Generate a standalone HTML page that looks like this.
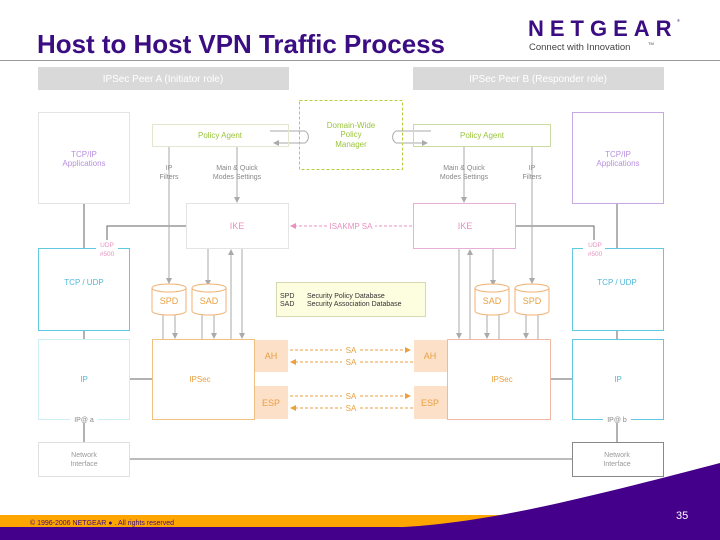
<!DOCTYPE html>
<html><head><meta charset="utf-8"><style>
html,body{margin:0;padding:0;background:#fff;}
svg{display:block;font-family:"Liberation Sans","DejaVu Sans",sans-serif;}
</style></head><body>
<svg width="720" height="540" viewBox="0 0 720 540" xmlns="http://www.w3.org/2000/svg">
<defs>
<marker id="ag" markerWidth="6" markerHeight="6" refX="5" refY="3" orient="auto" markerUnits="userSpaceOnUse"><path d="M0,0 L6,3 L0,6 z" fill="#aaa"/></marker>
<marker id="ap" markerWidth="6" markerHeight="6" refX="5" refY="3" orient="auto" markerUnits="userSpaceOnUse"><path d="M0,0 L6,3 L0,6 z" fill="#e890c0"/></marker>
<marker id="ao" markerWidth="6" markerHeight="6" refX="5" refY="3" orient="auto" markerUnits="userSpaceOnUse"><path d="M0,0 L6,3 L0,6 z" fill="#e8a040"/></marker>
</defs>

<!-- header -->
<text x="37" y="53" font-size="26" font-weight="bold" fill="#3b0d82" textLength="408" lengthAdjust="spacingAndGlyphs">Host to Host VPN Traffic Process</text>
<text x="528" y="36" font-size="22" font-weight="bold" fill="#3b0d82" letter-spacing="6">NETGEAR</text>
<text x="677" y="22" font-size="4" fill="#3b0d82">®</text>
<text x="529" y="50" font-size="9.5" fill="#444">Connect with Innovation</text>
<text x="648" y="45" font-size="4" fill="#444">TM</text>
<line x1="0" y1="60.5" x2="720" y2="60.5" stroke="#999" stroke-width="1"/>

<rect x="38" y="67" width="251" height="23" fill="#d9d9d9"/>
<text x="163" y="82" font-size="10" fill="#fff" text-anchor="middle">IPSec Peer A (Initiator role)</text>
<rect x="413" y="67" width="251" height="23" fill="#d9d9d9"/>
<text x="538" y="82" font-size="10" fill="#fff" text-anchor="middle">IPSec Peer B (Responder role)</text>

<g fill="none" stroke-width="1">
<path d="M84,203 V248 M84,330 V339 M84,419 V442 M617,203 V248 M617,330 V339 M617,419 V442" stroke="#666"/>
<path d="M186,226 H107 V248 M515,226 H594 V248" stroke="#666"/>
<path d="M129,379 H152 M550,379 H572" stroke="#666"/>
<path d="M129,459 H572" stroke="#777"/>
<path d="M270,131 H305 A7,7 0 0 1 305,143 H274" stroke="#aaa" marker-end="url(#ag)"/>
<path d="M431,131 H396 A7,7 0 0 0 396,143 H427" stroke="#aaa" marker-end="url(#ag)"/>
<path d="M169,146 V283" stroke="#aaa" marker-end="url(#ag)"/>
<path d="M237,146 V202" stroke="#aaa" marker-end="url(#ag)"/>
<path d="M208,248 V285" stroke="#aaa" marker-end="url(#ag)"/>
<path d="M231,339 V250" stroke="#aaa" marker-end="url(#ag)"/>
<path d="M242,248 V338" stroke="#aaa" marker-end="url(#ag)"/>
<path d="M163,339 V316 A6,6 0 0 1 175,316 V338" stroke="#aaa" marker-end="url(#ag)"/>
<path d="M202,339 V316 A6,6 0 0 1 214,316 V338" stroke="#aaa" marker-end="url(#ag)"/>
<path d="M532,146 V283" stroke="#aaa" marker-end="url(#ag)"/>
<path d="M464,146 V202" stroke="#aaa" marker-end="url(#ag)"/>
<path d="M493,248 V285" stroke="#aaa" marker-end="url(#ag)"/>
<path d="M470,339 V250" stroke="#aaa" marker-end="url(#ag)"/>
<path d="M459,248 V338" stroke="#aaa" marker-end="url(#ag)"/>
<path d="M538,339 V316 A6,6 0 0 0 526,316 V338" stroke="#aaa" marker-end="url(#ag)"/>
<path d="M499,339 V316 A6,6 0 0 0 487,316 V338" stroke="#aaa" marker-end="url(#ag)"/>
</g>

<g stroke-width="1">
<rect x="38.5" y="112.5" width="91" height="91" fill="#fff" stroke="#e4e4e4"/>
<rect x="572.5" y="112.5" width="91" height="91" fill="#fff" stroke="#c8a8e0"/>
<rect x="152.5" y="124.5" width="136" height="22" fill="none" stroke="#e0e8d0"/>
<rect x="413.5" y="124.5" width="137" height="22" fill="none" stroke="#c8dca0"/>
<rect x="299.5" y="100.5" width="103" height="69" fill="none" stroke="#b8cc40" stroke-dasharray="3,2"/>
<rect x="186.5" y="203.5" width="102" height="45" fill="#fff" stroke="#e4e4e4"/>
<rect x="413.5" y="203.5" width="102" height="45" fill="#fff" stroke="#e8b0d8"/>
<rect x="38.5" y="248.5" width="91" height="82" fill="#fff" stroke="#60c8e0"/>
<rect x="572.5" y="248.5" width="91" height="82" fill="#fff" stroke="#60c8e0"/>
<rect x="38.5" y="339.5" width="91" height="80" fill="#fff" stroke="#d0eef6"/>
<rect x="572.5" y="339.5" width="91" height="80" fill="#fff" stroke="#60c8e0"/>
<rect x="152.5" y="339.5" width="102" height="80" fill="#fff" stroke="#f0c080"/>
<rect x="447.5" y="339.5" width="103" height="80" fill="#fff" stroke="#f0b8a0"/>
<rect x="38.5" y="442.5" width="91" height="34" fill="#fff" stroke="#e0e0e0"/>
<rect x="572.5" y="442.5" width="91" height="34" fill="#fff" stroke="#888"/>
<rect x="276.5" y="282.5" width="149" height="34" fill="#fdfde0" stroke="#d8d8b0"/>
</g>
<rect x="255" y="340" width="33" height="32" fill="#fde0c8"/>
<rect x="255" y="386" width="33" height="33" fill="#fde0c8"/>
<rect x="414" y="340" width="33" height="32" fill="#fde0c8"/>
<rect x="414" y="386" width="33" height="33" fill="#fde0c8"/>

<g fill="#fff" stroke="#f0b070" stroke-width="1">
<path d="M152,288 V311 A17,4 0 0 0 186,311 V288"/><ellipse cx="169" cy="288" rx="17" ry="4"/>
<path d="M192,288 V311 A17,4 0 0 0 226,311 V288"/><ellipse cx="209" cy="288" rx="17" ry="4"/>
<path d="M475,288 V311 A17,4 0 0 0 509,311 V288"/><ellipse cx="492" cy="288" rx="17" ry="4"/>
<path d="M515,288 V311 A17,4 0 0 0 549,311 V288"/><ellipse cx="532" cy="288" rx="17" ry="4"/>
</g>

<g fill="none" stroke-width="1" stroke-dasharray="3,2">
<path d="M412,226 H291" stroke="#e890c0" marker-end="url(#ap)"/>
<path d="M290,350 H410" stroke="#e8a040" marker-end="url(#ao)"/>
<path d="M413,362 H291" stroke="#e8a040" marker-end="url(#ao)"/>
<path d="M290,396 H410" stroke="#e8a040" marker-end="url(#ao)"/>
<path d="M413,408 H291" stroke="#e8a040" marker-end="url(#ao)"/>
</g>
<g fill="#fff"><rect x="327" y="221" width="48" height="10"/><rect x="342" y="345" width="17" height="21"/><rect x="342" y="391" width="17" height="21"/></g>

<g font-size="8" text-anchor="middle">
<text x="84" y="157" fill="#b890e0">TCP/IP</text><text x="84" y="166" fill="#b890e0">Applications</text>
<text x="618" y="157" fill="#b890e0">TCP/IP</text><text x="618" y="166" fill="#b890e0">Applications</text>
<text x="220" y="138" fill="#9ac43b">Policy Agent</text>
<text x="482" y="138" fill="#9ac43b">Policy Agent</text>
<text x="351" y="128" fill="#9ac43b">Domain-Wide</text><text x="351" y="137" fill="#9ac43b">Policy</text><text x="351" y="147" fill="#9ac43b">Manager</text>
<text x="169" y="170" fill="#888" font-size="7">IP</text><text x="169" y="179" fill="#888" font-size="7">Filters</text>
<text x="237" y="170" fill="#888" font-size="7">Main &amp; Quick</text><text x="237" y="179" fill="#888" font-size="7">Modes Settings</text>
<text x="532" y="170" fill="#888" font-size="7">IP</text><text x="532" y="179" fill="#888" font-size="7">Filters</text>
<text x="464" y="170" fill="#888" font-size="7">Main &amp; Quick</text><text x="464" y="179" fill="#888" font-size="7">Modes Settings</text>
<text x="237" y="229" fill="#e890c0" font-size="9">IKE</text>
<text x="465" y="229" fill="#e890c0" font-size="9">IKE</text>
<text x="351" y="229" fill="#e890c0">ISAKMP SA</text>
<rect x="96" y="240" width="22" height="18" fill="#fff"/>
<rect x="583" y="240" width="22" height="18" fill="#fff"/>
<text x="107" y="247" fill="#e890c0" font-size="6.5">UDP</text><text x="107" y="256" fill="#e890c0" font-size="6.5">#500</text>
<text x="595" y="247" fill="#e890c0" font-size="6.5">UDP</text><text x="595" y="256" fill="#e890c0" font-size="6.5">#500</text>
<text x="84" y="285" fill="#50b8d8">TCP / UDP</text>
<text x="617" y="285" fill="#50b8d8">TCP / UDP</text>
<text x="169" y="304" fill="#e8a040" font-size="9">SPD</text><text x="209" y="304" fill="#e8a040" font-size="9">SAD</text>
<text x="492" y="304" fill="#e8a040" font-size="9">SAD</text><text x="532" y="304" fill="#e8a040" font-size="9">SPD</text>
<text x="84" y="382" fill="#50b8d8">IP</text><text x="618" y="382" fill="#50b8d8">IP</text>
<text x="200" y="382" fill="#e8a040">IPSec</text><text x="502" y="382" fill="#e8a040">IPSec</text>
<text x="271" y="359" fill="#e8a040" font-size="9">AH</text><text x="271" y="406" fill="#e8a040" font-size="9">ESP</text>
<text x="430" y="359" fill="#e8a040" font-size="9">AH</text><text x="430" y="406" fill="#e8a040" font-size="9">ESP</text>
<text x="351" y="353" fill="#e8a040">SA</text><text x="351" y="365" fill="#e8a040">SA</text>
<text x="351" y="399" fill="#e8a040">SA</text><text x="351" y="411" fill="#e8a040">SA</text>
<rect x="70" y="415" width="28" height="8" fill="#fff"/><rect x="603" y="415" width="28" height="8" fill="#fff"/>
<text x="84" y="422" fill="#888" font-size="7">IP@ a</text><text x="617" y="422" fill="#888" font-size="7">IP@ b</text>
<text x="84" y="457" fill="#999" font-size="7">Network</text><text x="84" y="466" fill="#999" font-size="7">Interface</text>
<text x="617" y="457" fill="#999" font-size="7">Network</text><text x="617" y="466" fill="#999" font-size="7">Interface</text>
</g>
<g font-size="7" fill="#333">
<text x="280" y="298">SPD</text><text x="307" y="298">Security Policy Database</text>
<text x="280" y="306">SAD</text><text x="307" y="306">Security Association Database</text>
</g>

<rect x="0" y="515" width="720" height="13" fill="#ffa500"/>
<rect x="0" y="527" width="720" height="13" fill="#44008a"/>
<path d="M380,528 C470,526 560,505 720,463 V540 H380 Z" fill="#44008a"/>
<text x="30" y="525" font-size="7" fill="#3b0d82">© 1996-2006 NETGEAR ● . All rights reserved</text>
<text x="676" y="519" font-size="11" fill="#fff">35</text>
</svg>
</body></html>
